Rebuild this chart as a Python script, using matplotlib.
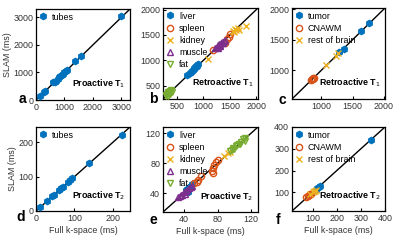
import matplotlib
matplotlib.use("Agg")
import matplotlib.pyplot as plt

plt.rcParams['font.family'] = ['Liberation Sans', 'DejaVu Sans']

BLUE = '#0072BD'; ORANGE = '#D95319'; YELLOW = '#EDB120'; PURPLE = '#7E2F8E'; GREEN = '#77AC30'

# ---- panel a: Proactive T1 (tubes)
a_full = [150, 280, 320, 600, 650, 700, 760, 800, 850, 900, 950, 1000, 1050, 1100, 1380, 1580, 3000]
a_slam = [150, 290, 330, 640, 660, 690, 750, 820, 880, 920, 960, 1010, 1050, 1090, 1400, 1590, 3060]

# ---- panel b: Retroactive T1 (liver, spleen, kidney, muscle, fat)
b_liver_full = [700, 740, 760, 790, 800, 820, 830, 850, 860, 870, 880, 890, 900]
b_liver_slam = [720, 750, 780, 800, 820, 830, 840, 870, 860, 880, 890, 900, 920]
b_spleen_full = [1190, 1400, 1440, 1480, 1500]
b_spleen_slam = [1210, 1340, 1420, 1460, 1510]
b_kidney_full = [1080, 1560, 1580, 1600, 1620, 1650, 1680, 1800]
b_kidney_slam = [1030, 1580, 1560, 1620, 1600, 1640, 1590, 1680]
b_muscle_full = [1220, 1250, 1270, 1280, 1300, 1310, 1320, 1340, 1350, 1370, 1380, 1400]
b_muscle_slam = [1240, 1270, 1250, 1300, 1330, 1280, 1300, 1340, 1360, 1350, 1380, 1400]
b_fat_full = [290, 300, 320, 330, 340, 350, 360, 370, 380, 400, 330, 410]
b_fat_slam = [300, 320, 340, 300, 360, 380, 350, 330, 390, 410, 370, 380]

# ---- panel c: Retroactive T1 brain (tumor, CNAWM, rest of brain)
c_tumor_full = [1290, 1370, 1640, 1770]
c_tumor_slam = [1300, 1350, 1640, 1780]
c_cnawm_full = [830, 850, 860, 870, 880]
c_cnawm_slam = [840, 860, 880, 850, 870]
c_rest_full = [1080, 1240, 1270]
c_rest_slam = [1090, 1240, 1280]

# ---- panel d: Proactive T2 (tubes)
d_full = [10, 29, 42, 47, 60, 65, 70, 83, 89, 93, 139, 224]
d_slam = [11, 30, 43, 48, 61, 66, 71, 84, 91, 95, 141, 222]

# ---- panel e: Proactive T2 (liver, spleen, kidney, muscle, fat)
e_liver_full = [42, 44, 45, 46, 48, 50]
e_liver_slam = [44, 46, 42, 48, 50, 52]
e_spleen_full = [52, 55, 57, 60, 73, 74, 75, 76, 78, 80]
e_spleen_slam = [53, 55, 58, 63, 70, 67, 74, 78, 82, 84]
e_kidney_full = [88, 92, 95]
e_kidney_slam = [90, 93, 95]
e_muscle_full = [33, 35, 36, 38, 40, 41, 42, 44, 46, 48, 50]
e_muscle_slam = [35, 36, 38, 38, 41, 39, 43, 44, 47, 48, 50]
e_fat_full = [95, 97, 98, 100, 102, 103, 105, 107, 108, 110, 112, 113]
e_fat_slam = [96, 98, 100, 99, 103, 104, 106, 105, 108, 112, 110, 113]

# ---- panel f: Retroactive T2 brain
f_tumor_full = [115, 120, 125, 130, 342]
f_tumor_slam = [112, 120, 125, 130, 342]
f_cnawm_full = [75, 80, 85, 90, 95]
f_cnawm_slam = [80, 85, 88, 92, 95]
f_rest_full = [90, 100, 105, 110, 115]
f_rest_slam = [92, 100, 105, 108, 112]

fig = plt.figure(figsize=(4.0, 2.44), dpi=100)

def mk(x, w, yb, h):
    return fig.add_axes([x/400, 1 - yb/244, w/400, h/244])

axa = mk(36, 94, 100, 91)
axb = mk(163, 95, 99, 91)
axc = mk(292, 93, 99, 91)
axd = mk(36, 94, 211, 84)
axe = mk(163, 95, 212, 85)
axf = mk(292, 93, 211, 84)

FS = 6.4
ms = 4.5
GRAY = '#333333'

def style(ax, lim, ticks, title, letter, lx, ly):
    ax.set_xlim(lim); ax.set_ylim(lim)
    ax.plot(lim, lim, color='black', lw=1.0, zorder=1)
    ax.set_xticks(ticks); ax.set_yticks(ticks)
    ax.tick_params(direction='in', length=2, labelsize=FS, pad=2, colors='black',
                   labelcolor=GRAY)
    for s in ax.spines.values():
        s.set_linewidth(0.9)
    ax.text(0.955, 0.18, title, transform=ax.transAxes, ha='right', va='center',
            fontsize=FS, fontweight='bold')
    fig.text(lx/400, 1 - ly/244, letter, fontsize=10, fontweight='bold', ha='center', va='center')

def leg(ax):
    ax.legend(loc='upper left', frameon=False, fontsize=FS, handlelength=0.8,
              handletextpad=0.6, borderaxespad=0.2, labelspacing=0.35, borderpad=0.2)

# a
axa.plot(a_full, a_slam, 'h', color=BLUE, ms=ms, ls='none', label='tubes', zorder=3)
style(axa, (0, 3300), [0, 1000, 2000, 3000], 'Proactive T$_1$', 'a', 22, 99)
leg(axa)
axa.set_ylabel('SLAM (ms)', fontsize=FS, color=GRAY, labelpad=1)

# b
axb.plot(b_liver_full, b_liver_slam, 'h', color=BLUE, ms=ms, ls='none', label='liver', zorder=3)
axb.plot(b_spleen_full, b_spleen_slam, 'o', mec=ORANGE, mfc='none', mew=1, ms=ms, ls='none', label='spleen', zorder=3)
axb.plot(b_kidney_full, b_kidney_slam, 'x', color=YELLOW, mew=1, ms=ms, ls='none', label='kidney', zorder=3)
axb.plot(b_muscle_full, b_muscle_slam, '^', mec=PURPLE, mfc='none', mew=1, ms=ms, ls='none', label='muscle', zorder=3)
axb.plot(b_fat_full, b_fat_slam, 'v', mec=GREEN, mfc='none', mew=1, ms=ms, ls='none', label='fat', zorder=3)
style(axb, (240, 2030), [500, 1000, 1500, 2000], 'Retroactive T$_1$', 'b', 153, 99)
leg(axb)

# c
axc.plot(c_tumor_full, c_tumor_slam, 'h', color=BLUE, ms=ms, ls='none', label='tumor', zorder=3)
axc.plot(c_cnawm_full, c_cnawm_slam, 'o', mec=ORANGE, mfc='none', mew=1, ms=ms, ls='none', label='CNAWM', zorder=3)
axc.plot(c_rest_full, c_rest_slam, 'x', color=YELLOW, mew=1, ms=ms, ls='none', label='rest of brain', zorder=3)
style(axc, (530, 2020), [1000, 1500, 2000], 'Retroactive T$_1$', 'c', 282, 100)
leg(axc)

# d
axd.plot(d_full, d_slam, 'h', color=BLUE, ms=ms, ls='none', label='tubes', zorder=3)
style(axd, (0, 245), [0, 100, 200], 'Proactive T$_2$', 'd', 21, 217)
leg(axd)
axd.set_ylabel('SLAM (ms)', fontsize=FS, color=GRAY, labelpad=1)
axd.set_xlabel('Full k-space (ms)', fontsize=FS, color=GRAY, labelpad=2)

# e
axe.plot(e_liver_full, e_liver_slam, 'h', color=BLUE, ms=ms, ls='none', label='liver', zorder=3)
axe.plot(e_spleen_full, e_spleen_slam, 'o', mec=ORANGE, mfc='none', mew=1, ms=ms, ls='none', label='spleen', zorder=3)
axe.plot(e_kidney_full, e_kidney_slam, 'x', color=YELLOW, mew=1, ms=ms, ls='none', label='kidney', zorder=3)
axe.plot(e_muscle_full, e_muscle_slam, '^', mec=PURPLE, mfc='none', mew=1, ms=ms, ls='none', label='muscle', zorder=3)
axe.plot(e_fat_full, e_fat_slam, 'v', mec=GREEN, mfc='none', mew=1, ms=ms, ls='none', label='fat', zorder=3)
style(axe, (15, 128), [40, 80, 120], 'Proactive T$_2$', 'e', 153, 220)
leg(axe)
axe.set_xlabel('Full k-space (ms)', fontsize=FS, color=GRAY, labelpad=2)

# f
axf.plot(f_tumor_full, f_tumor_slam, 'h', color=BLUE, ms=ms, ls='none', label='tumor', zorder=3)
axf.plot(f_cnawm_full, f_cnawm_slam, 'o', mec=ORANGE, mfc='none', mew=1, ms=ms, ls='none', label='CNAWM', zorder=3)
axf.plot(f_rest_full, f_rest_slam, 'x', color=YELLOW, mew=1, ms=ms, ls='none', label='rest of brain', zorder=3)
style(axf, (15, 400), [100, 200, 300, 400], 'Retroactive T$_2$', 'f', 278, 220)
leg(axf)
axf.set_xlabel('Full k-space (ms)', fontsize=FS, color=GRAY, labelpad=2)

fig.savefig('out.png', dpi=100)
